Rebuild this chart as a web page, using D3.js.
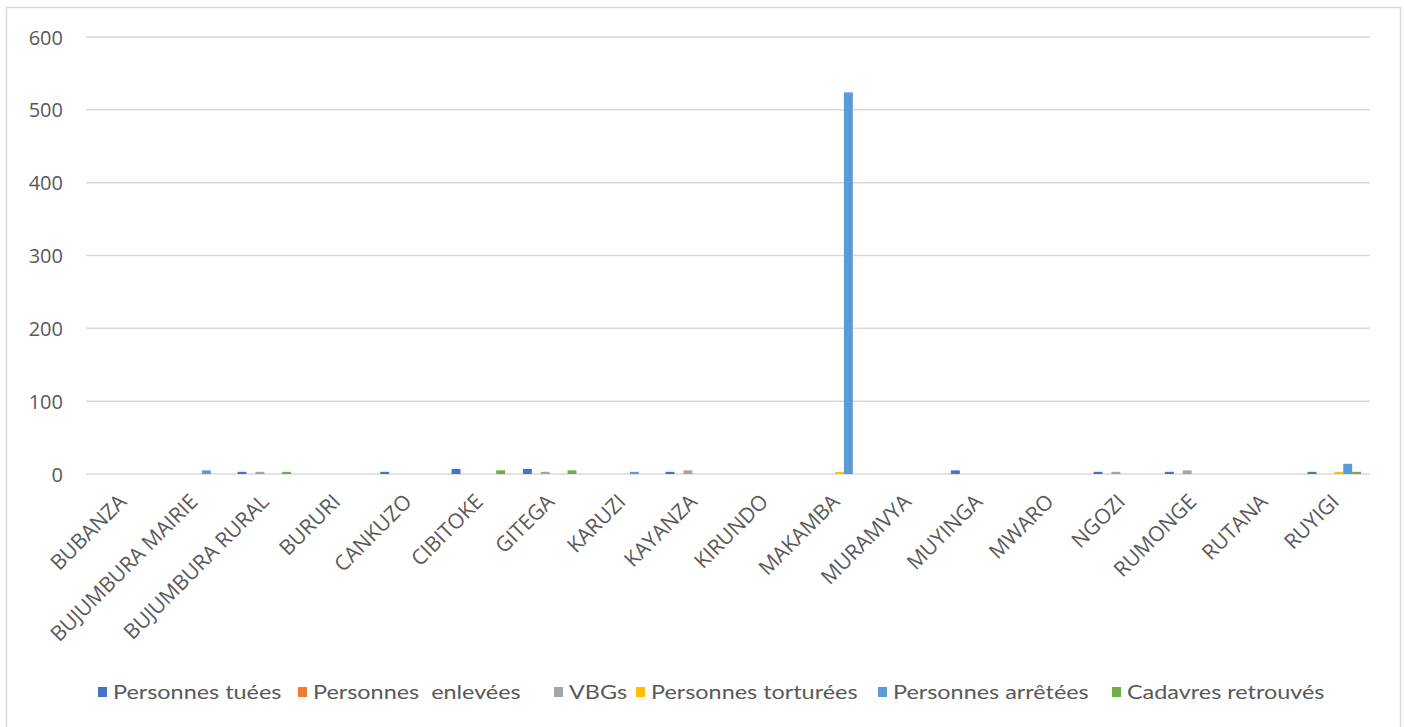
<!DOCTYPE html>
<html>
<head>
<meta charset="utf-8">
<script src="https://cdn.jsdelivr.net/npm/d3@7"></script>
<style>
  html, body { margin: 0; padding: 0; background: #fff; }
  svg { display: block; }
</style>
</head>
<body>
<svg id="chart" width="1405" height="727"></svg>
<script>
// Provinces (categories)
const provinces = ["BUBANZA", "BUJUMBURA MAIRIE", "BUJUMBURA RURAL", "BURURI", "CANKUZO",
  "CIBITOKE", "GITEGA", "KARUZI", "KAYANZA", "KIRUNDO", "MAKAMBA", "MURAMVYA",
  "MUYINGA", "MWARO", "NGOZI", "RUMONGE", "RUTANA", "RUYIGI"];

// Series names
const seriesNames = ["Personnes tuées", "Personnes  enlevées", "VBGs",
  "Personnes torturées", "Personnes arrêtées", "Cadavres retrouvés"];

// Series values, one per province
const personnesTuees     = [0, 0, 3, 0, 3, 7, 7, 0, 3, 0, 0, 0, 5, 0, 3, 3, 0, 3];
const personnesEnlevees  = [0, 0, 0, 0, 0, 0, 0, 0, 0, 0, 0, 0, 0, 0, 0, 0, 0, 0];
const vbgs               = [0, 0, 3, 0, 0, 0, 3, 0, 5, 0, 0, 0, 0, 0, 3, 5, 0, 0];
const personnesTorturees = [0, 0, 0, 0, 0, 0, 0, 0, 0, 0, 3, 0, 0, 0, 0, 0, 0, 3];
const personnesArretees  = [0, 5, 0, 0, 0, 0, 0, 3, 0, 0, 524, 0, 0, 0, 0, 0, 0, 14];
const cadavresRetrouves  = [0, 0, 3, 0, 0, 5, 5, 0, 0, 0, 0, 0, 0, 0, 0, 0, 0, 3];

// Y-axis ticks
const yTicks = [0, 100, 200, 300, 400, 500, 600];

const seriesValues = [personnesTuees, personnesEnlevees, vbgs,
  personnesTorturees, personnesArretees, cadavresRetrouves];
const colors = ["#4472C4", "#ED7D31", "#A5A5A5", "#FFC000", "#5B9BD5", "#70AD47"];

const svg = d3.select("#chart");
const W = 1405, H = 727;

// chart frame
svg.append("rect").attr("width", W).attr("height", H).attr("fill", "#fff");
svg.append("rect")
  .attr("x", 6.5).attr("y", 7.5).attr("width", 1394).attr("height", 740)
  .attr("fill", "none").attr("stroke", "#d9d9d9").attr("stroke-width", 1.5);

const plot = { left: 86, right: 1370, top: 37, bottom: 474 };

const x0 = d3.scaleBand().domain(provinces).range([plot.left, plot.right]).padding(0);
const x1 = d3.scaleBand().domain(d3.range(seriesNames.length))
  .range([0, x0.bandwidth()]).paddingInner(0).paddingOuter(1.0);
const y = d3.scaleLinear().domain([0, 600]).range([plot.bottom, plot.top]);

// gridlines
svg.append("g").selectAll("line").data(yTicks).join("line")
  .attr("x1", plot.left).attr("x2", plot.right)
  .attr("y1", d => y(d)).attr("y2", d => y(d))
  .attr("stroke", "#d9d9d9").attr("stroke-width", 1.5);

// y-axis labels
const yAxis = d3.axisLeft(y).tickValues(yTicks).tickSize(0).tickPadding(0);
const gy = svg.append("g").attr("transform", `translate(${plot.left - 23},0)`).call(yAxis);
gy.select(".domain").remove();
gy.selectAll("text")
  .attr("font-family", "'Open Sans', sans-serif").attr("font-size", 20)
  .attr("fill", "#595959").attr("dy", "0.35em");

// bars
const rows = provinces.map((p, i) => ({ p, vals: seriesValues.map(s => s[i]) }));
const groups = svg.append("g").selectAll("g").data(rows).join("g")
  .attr("transform", d => `translate(${x0(d.p)},0)`);
groups.selectAll("rect").data(d => d.vals.map((v, k) => ({ v, k }))).join("rect")
  .attr("x", d => x1(d.k))
  .attr("width", x1.bandwidth())
  .attr("y", d => y(d.v))
  .attr("height", d => y(0) - y(d.v))
  .attr("fill", d => colors[d.k]);

// x-axis labels (rotated)
const xAxis = d3.axisBottom(x0).tickSize(0).tickPadding(0);
const gx = svg.append("g").attr("transform", `translate(0,${plot.bottom})`).call(xAxis);
gx.select(".domain").remove();
gx.selectAll("text")
  .attr("font-family", "'Open Sans', sans-serif").attr("font-size", 21)
  .attr("fill", "#595959")
  .attr("text-anchor", "end")
  .attr("dy", 0)
  .attr("transform", "translate(6,29) rotate(-45)");

// legend
const legendX = [98, 298, 554, 636, 878, 1112];
const legend = svg.append("g").attr("transform", "translate(0,692)");
const items = legend.selectAll("g").data(seriesNames).join("g")
  .attr("transform", (d, i) => `translate(${legendX[i]},0)`);
items.append("rect").attr("x", 0).attr("y", -5).attr("width", 9).attr("height", 10)
  .attr("fill", (d, i) => colors[i]);
items.append("text")
  .attr("transform", "translate(15,0) scale(1.17,1)")
  .attr("dy", "0.35em")
  .style("white-space", "pre")
  .attr("font-family", "Lato, 'Open Sans', sans-serif").attr("font-size", 20)
  .attr("fill", "#595959")
  .text(d => d);
</script>
</body>
</html>
